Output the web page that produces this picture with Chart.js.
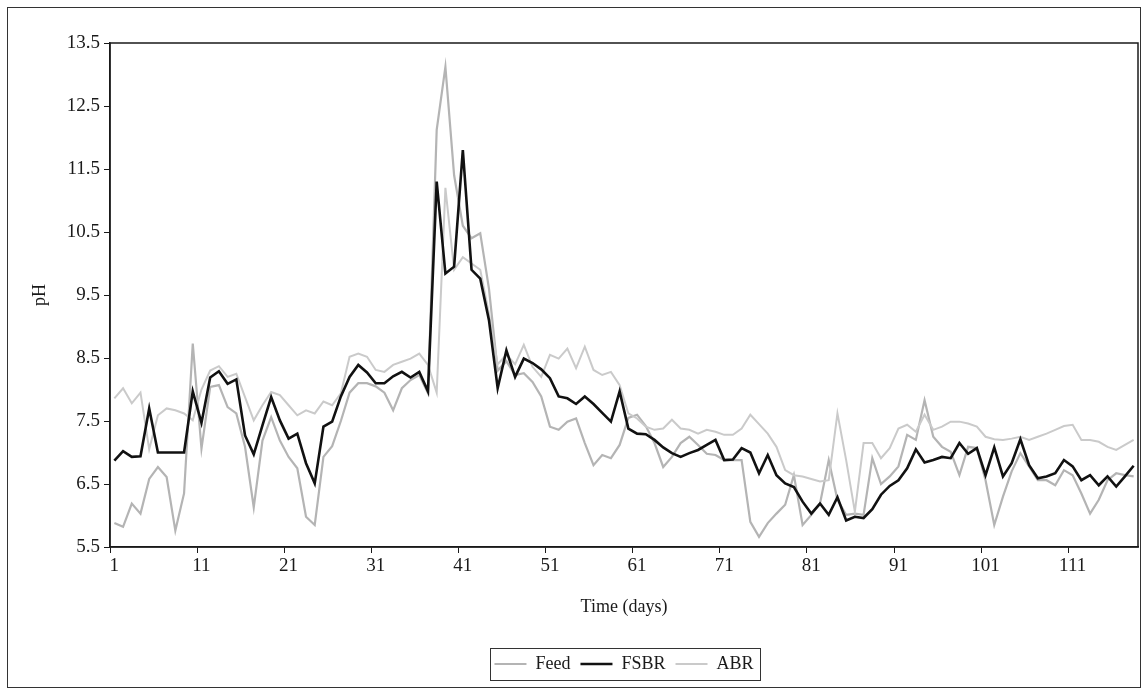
<!DOCTYPE html>
<html>
<head>
<meta charset="utf-8">
<title>pH over time</title>
<script src="https://cdn.jsdelivr.net/npm/chart.js@4.4.1/dist/chart.umd.min.js"></script>
<style>
  html, body { margin: 0; padding: 0; background: #fff; }
  #wrap { width: 1146px; height: 693px; }
</style>
</head>
<body>
<div id="wrap"><canvas id="ph-chart" width="1146" height="693"></canvas></div>
<script>
// days 1..118 of the run
const days = Array.from({ length: 118 }, (_, i) => i + 1);
const dayTicks = [1, 11, 21, 31, 41, 51, 61, 71, 81, 91, 101, 111];
const phTicks = [5.5, 6.5, 7.5, 8.5, 9.5, 10.5, 11.5, 12.5, 13.5];

const feedPH = [
  5.88, 5.82, 6.19, 6.03, 6.58, 6.77, 6.61, 5.76, 6.35, 8.73,
  7.06, 8.04, 8.07, 7.72, 7.62, 7.09, 6.13, 7.19, 7.56, 7.19,
  6.93, 6.75, 5.98, 5.85, 6.93, 7.10, 7.50, 7.95, 8.10, 8.10,
  8.05, 7.95, 7.67, 8.02, 8.15, 8.23, 7.94, 12.12, 13.12, 11.40,
  10.60, 10.40, 10.48, 9.60, 8.30, 8.45, 8.23, 8.26, 8.12, 7.89,
  7.41, 7.36, 7.49, 7.54, 7.15, 6.80, 6.96, 6.91, 7.12, 7.55,
  7.60, 7.42, 7.15, 6.77, 6.93, 7.15, 7.25, 7.12, 6.98, 6.96,
  6.88, 6.88, 6.88, 5.90, 5.66, 5.88, 6.03, 6.17, 6.64, 5.85,
  6.01, 6.19, 6.88, 6.25, 6.01, 6.03, 6.01, 6.91, 6.50, 6.62,
  6.78, 7.28, 7.20, 7.83, 7.25, 7.09, 7.01, 6.64, 7.09, 7.07,
  6.56, 5.85, 6.30, 6.70, 6.99, 6.78, 6.56, 6.56, 6.48, 6.72,
  6.64, 6.35, 6.03, 6.25, 6.56, 6.67, 6.64, 6.62
];

const fsbrPH = [
  6.87, 7.02, 6.93, 6.94, 7.70, 7.00, 7.00, 7.00, 7.00, 7.97,
  7.47, 8.19, 8.29, 8.09, 8.16, 7.27, 6.97, 7.43, 7.88, 7.51,
  7.22, 7.30, 6.83, 6.51, 7.41, 7.49, 7.89, 8.20, 8.39, 8.27,
  8.10, 8.10, 8.21, 8.28, 8.19, 8.28, 7.97, 11.30, 9.84, 9.95,
  11.80, 9.90, 9.76, 9.10, 8.02, 8.62, 8.20, 8.49, 8.42, 8.32,
  8.18, 7.89, 7.86, 7.77, 7.89, 7.77, 7.63, 7.49, 7.97, 7.38,
  7.30, 7.29, 7.20, 7.08, 6.99, 6.93, 6.99, 7.04, 7.12, 7.20,
  6.88, 6.89, 7.07, 7.00, 6.67, 6.96, 6.64, 6.51, 6.45, 6.22,
  6.03, 6.19, 6.01, 6.29, 5.92, 5.98, 5.96, 6.10, 6.33, 6.47,
  6.56, 6.75, 7.05, 6.84, 6.88, 6.93, 6.91, 7.15, 6.98, 7.07,
  6.64, 7.08, 6.62, 6.83, 7.21, 6.80, 6.59, 6.62, 6.67, 6.88,
  6.78, 6.56, 6.64, 6.48, 6.62, 6.46, 6.62, 6.79
];

const abrPH = [
  7.86, 8.02, 7.78, 7.95, 7.05, 7.59, 7.70, 7.67, 7.62, 7.51,
  8.00, 8.30, 8.37, 8.20, 8.25, 7.88, 7.51, 7.75, 7.96, 7.91,
  7.75, 7.59, 7.67, 7.62, 7.81, 7.75, 7.94, 8.52, 8.57, 8.52,
  8.31, 8.28, 8.39, 8.44, 8.49, 8.57, 8.39, 7.95, 11.20, 9.90,
  10.10, 10.00, 9.90, 9.20, 8.40, 8.55, 8.40, 8.71, 8.36, 8.20,
  8.55, 8.49, 8.65, 8.34, 8.68, 8.31, 8.23, 8.28, 8.07, 7.62,
  7.54, 7.41, 7.36, 7.38, 7.52, 7.38, 7.36, 7.30, 7.36, 7.33,
  7.28, 7.28, 7.38, 7.60, 7.45, 7.30, 7.09, 6.72, 6.64, 6.62,
  6.58, 6.54, 6.56, 7.62, 6.88, 6.06, 7.15, 7.15, 6.91, 7.07,
  7.38, 7.44, 7.33, 7.60, 7.36, 7.41, 7.49, 7.49, 7.46, 7.41,
  7.25, 7.21, 7.20, 7.22, 7.25, 7.20, 7.25, 7.30, 7.36, 7.42,
  7.44, 7.20, 7.20, 7.17, 7.09, 7.04, 7.12, 7.20
];

const family = '"Liberation Serif", "Times New Roman", serif';
const tickFont = { family, size: 19 };
const textFont = { family, size: 18 };
const ink = '#1a1a1a';

// white page, outer frame, plot-area box and a box round the legend
const framePlugin = {
  id: 'frames',
  afterLayout(chart) {
    // centre the legend under the plot area rather than the whole canvas
    const lg = chart.legend;
    lg.left = chart.chartArea.left;
    lg.right = chart.chartArea.right;
    lg.width = lg.right - lg.left;
  },
  beforeDraw(chart) {
    const ctx = chart.ctx;
    ctx.save();
    ctx.fillStyle = '#fff';
    ctx.fillRect(0, 0, chart.width, chart.height);
    ctx.restore();
  },
  afterDraw(chart) {
    const { ctx, chartArea: a, legend } = chart;
    ctx.save();
    ctx.strokeStyle = '#333';
    ctx.lineWidth = 1;
    ctx.strokeRect(7.5, 7.5, 1133, 680);

    ctx.strokeStyle = ink;
    ctx.lineWidth = 1.5;
    ctx.strokeRect(a.left, a.top, a.right - a.left, a.bottom - a.top);

    const boxes = legend.legendHitBoxes;
    if (boxes && boxes.length) {
      const x0 = Math.min(...boxes.map(b => b.left)) - 4;
      const x1 = Math.max(...boxes.map(b => b.left + b.width)) + 7;
      const y0 = boxes[0].top - 7;
      const y1 = boxes[0].top + boxes[0].height + 7;
      ctx.lineWidth = 1;
      ctx.strokeStyle = '#333';
      ctx.strokeRect(Math.round(x0) + 0.5, Math.round(y0) + 0.5, Math.round(x1 - x0), Math.round(y1 - y0));
    }
    ctx.restore();
  }
};

new Chart(document.getElementById('ph-chart').getContext('2d'), {
  type: 'line',
  data: {
    labels: days,
    datasets: [
      { label: 'Feed', data: feedPH, borderColor: '#b4b4b4', borderWidth: 2.2, order: 2 },
      { label: 'FSBR', data: fsbrPH, borderColor: '#111', borderWidth: 2.6, order: 0 },
      { label: 'ABR', data: abrPH, borderColor: '#cacaca', borderWidth: 2, order: 1 },
    ],
  },
  options: {
    responsive: false,
    devicePixelRatio: 1,
    animation: false,
    elements: { point: { radius: 0 }, line: { tension: 0 } },
    layout: { padding: { left: 0, top: 43, right: 8, bottom: 10 } },
    plugins: {
      tooltip: { enabled: false },
      legend: {
        position: 'bottom',
        labels: {
          usePointStyle: true,
          pointStyle: 'line',
          pointStyleWidth: 32,
          padding: 10,
          color: ink,
          font: textFont,
          sort: (a, b) => a.datasetIndex - b.datasetIndex,
        },
      },
    },
    scales: {
      x: {
        type: 'category',
        offset: true,
        afterFit: s => { s.height = 98; },
        border: { display: true, color: ink, width: 1.5 },
        grid: {
          offset: true,
          drawOnChartArea: false,
          tickLength: 6,
          color: c => dayTicks.includes(days[c.index]) ? ink : 'rgba(0,0,0,0)',
        },
        ticks: {
          autoSkip: false,
          maxRotation: 0,
          padding: 2,
          color: ink,
          font: tickFont,
          callback: (v, i) => dayTicks.includes(days[i]) ? String(days[i]) : '',
        },
        title: { display: true, text: 'Time (days)', color: ink, font: textFont, padding: { top: 0, bottom: 27 } },
      },
      y: {
        min: 5.5,
        max: 13.5,
        afterFit: s => { s.width = 110; },
        afterBuildTicks: s => { s.ticks = phTicks.map(v => ({ value: v })); },
        border: { display: true, color: ink, width: 1.5 },
        grid: { drawOnChartArea: false, tickLength: 6, color: ink },
        ticks: { padding: 4, color: ink, font: tickFont, callback: v => v.toFixed(1) },
        title: { display: true, text: 'pH', color: ink, font: textFont, padding: { top: 29, bottom: 0 } },
      },
    },
  },
  plugins: [framePlugin],
});
</script>
</body>
</html>
